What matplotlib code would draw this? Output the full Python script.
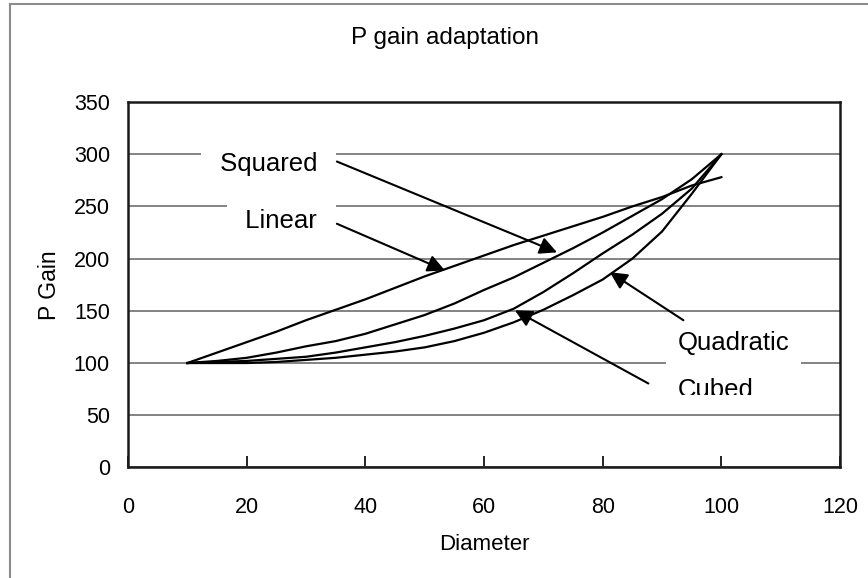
import numpy as np
import matplotlib.pyplot as plt
from matplotlib.lines import Line2D
from matplotlib.transforms import Bbox, TransformedBbox

plt.rcParams['font.family'] = ['Liberation Sans', 'DejaVu Sans']

# Diameter samples and the four gain schedules
diameter = [10, 15, 20, 25, 30, 35, 40, 45, 50, 55, 60, 65, 70, 75, 80, 85, 90, 95, 100]
gain_linear = [100, 110, 120, 130, 141, 151, 161, 172, 183, 193, 203, 213, 222, 231, 240, 250, 259, 270, 278]
gain_squared = [100, 102, 105, 110, 116, 121, 128, 137, 146, 157, 170, 182, 196, 210, 225, 241, 257, 276, 300]
gain_cubed = [100, 101, 102, 104, 106, 110, 115, 120, 126, 133, 141, 152, 168, 186, 205, 223, 243, 267, 300]
gain_quadratic = [100, 100, 100, 101, 103, 105, 108, 111, 115, 121, 129, 139, 151, 165, 180, 200, 226, 262, 300]

# label text, text position, arrow tail, arrow tip
labels = [
    (' Squared ', (23.7, 284.2), (35.2, 293), (72.3, 206)),
    (' Linear ', (25.8, 229.5), (35.2, 233.4), (53.4, 188.7)),
    ('Quadratic', (102.0, 112.2), (93.6, 141), (81.2, 187)),
    ('Cubed', (99.0, 67.3), (87.7, 80.4), (65.2, 150.5)),
]

fig = plt.figure(figsize=(8.68, 5.78), dpi=100)
ax = fig.add_axes([0.1475, 0.1913, 0.8203, 0.6322])

for g in [gain_linear, gain_squared, gain_cubed, gain_quadratic]:
    ax.plot(diameter, g, color='black', lw=1.6, zorder=2, solid_joinstyle='round')

ax.set_xlim(0, 120)
ax.set_ylim(0, 350)
ax.set_xticks(np.arange(0, 121, 20))
ax.set_yticks(np.arange(0, 351, 50))
ax.yaxis.grid(True, color='#7a7a7a', lw=1.3)
ax.set_axisbelow(True)
ax.tick_params(axis='x', direction='in', length=8, width=1.2, pad=21, labelsize=15.5)
ax.tick_params(axis='y', length=0, pad=13, labelsize=15.5)
for s in ax.spines.values():
    s.set_linewidth(1.8)
    s.set_color('#1a1a1a')

ax.set_xlabel('Diameter', fontsize=16, labelpad=12)
ax.set_ylabel('P Gain', fontsize=16.5, labelpad=9)
fig.text(0.5127, 0.934, 'P gain adaptation', fontsize=17.5, ha='center', va='center')

for name, pos, tail, tip in labels:
    t = ax.text(pos[0], pos[1], name, fontsize=18.5, ha='center', va='baseline',
                zorder=3, bbox=dict(boxstyle='square,pad=0.45', fc='white', ec='none'))
    if name == 'Cubed':
        # bottom of this label is cut off
        t.set_clip_on(True)
        t.set_clip_box(TransformedBbox(Bbox([[0, 69.2], [120, 350]]), ax.transData))
    ax.annotate('', xy=tip, xytext=tail, zorder=4,
                arrowprops=dict(arrowstyle='-|>', color='black', lw=1.5,
                                mutation_scale=26, shrinkA=0, shrinkB=0))

# outer frame, left and top edges only
fig.add_artist(Line2D([10 / 868, 10 / 868], [-0.1, 1 - 4 / 578], color='#8c8c8c', lw=1.5))
fig.add_artist(Line2D([10 / 868, 1.1], [1 - 4 / 578, 1 - 4 / 578], color='#8c8c8c', lw=1.5))

fig.savefig('out.png', dpi=100)
